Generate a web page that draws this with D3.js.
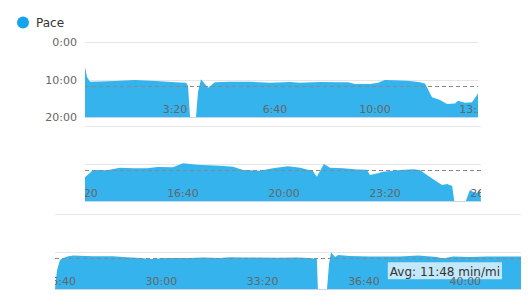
<!DOCTYPE html>
<html>
<head>
<meta charset="utf-8">
<script src="https://cdn.jsdelivr.net/npm/d3@7"></script>
<style>
  body { margin: 0; background: #fff; }
  svg { display: block; font-family: "DejaVu Sans", Verdana, sans-serif; }
</style>
</head>
<body>
<svg id="chart" width="531" height="305"></svg>
<script>
// data: elapsed time (s) and pace (s per mile)
const seriesName = "Pace";
const times = [
  20, 24, 30, 50, 80, 120, 170, 200, 222, 226, 230, 242, 246, 252, 266, 280, 310, 350, 390, 430,
  450, 490, 530, 546, 560, 590, 606, 620, 650, 670, 690, 700, 714, 730, 744, 760, 766, 780, 794, 804,
  806, 822, 850, 875, 901, 929, 949, 980, 1000, 1028, 1073, 1099, 1119, 1152, 1178, 1208, 1232, 1257, 1265, 1279,
  1291, 1317, 1345, 1364, 1370, 1384, 1396, 1430, 1456, 1469, 1483, 1503, 1513, 1523, 1533, 1537, 1560, 1562, 1568, 1574,
  1582, 1588, 1590, 1594, 1600, 1614, 1626, 1665, 1704, 1732, 1758, 1778, 1811, 1857, 1882, 1916, 1935, 1961, 2028, 2068,
  2093, 2107, 2109, 2127, 2131, 2135, 2143, 2149, 2172, 2212, 2232, 2271, 2307, 2344, 2356, 2376, 2409, 2443, 2468, 2510
];
const paces = [
  395, 560, 635, 630, 625, 608, 628, 645, 650, 700, 1200, 1200, 800, 597, 731, 645, 635, 635, 650, 640,
  652, 640, 645, 645, 670, 670, 650, 608, 615, 625, 645, 665, 885, 928, 992, 985, 939, 971, 965, 848,
  821, 704, 709, 667, 677, 675, 656, 660, 597, 619, 635, 651, 704, 715, 677, 645, 667, 720, 811, 608,
  667, 677, 695, 700, 784, 760, 731, 704, 693, 704, 784, 891, 944, 928, 960, 1200, 1200, 1157, 1024, 1050,
  1070, 1024, 1200, 900, 731, 678, 662, 675, 675, 690, 704, 720, 704, 704, 694, 704, 690, 694, 700, 694,
  704, 720, 1200, 1200, 800, 614, 688, 656, 672, 678, 678, 678, 662, 688, 710, 678, 688, 678, 678, 678
];
const avgPace = 708;
const avgLabel = "Avg: 11:48 min/mi";
const yTicks = [0, 600, 1200];
const xTickStep = 200;
const rowSpans = [[20, 806], [806, 1590], [1590, 2510]];

const points = times.map((t, i) => ({ t: t, p: paces[i] }));

// layout of the three stacked rows
const rows = [
  { x0: 85, x1: 478, top: 42, bottom: 117, yLabels: true },
  { x0: 85, x1: 481, top: 126, bottom: 201, yLabels: false },
  { x0: 55, x1: 521, top: 214, bottom: 289, yLabels: false }
];

const fmt = s => Math.floor(s / 60) + ":" + String(s % 60).padStart(2, "0");

const svg = d3.select("#chart");

// legend
svg.append("circle").attr("cx", 23).attr("cy", 22.5).attr("r", 6).attr("fill", "#14a5ea");
svg.append("text").attr("x", 36).attr("y", 26.5).attr("font-size", 12).attr("fill", "#333").text(seriesName);

rows.forEach((row, i) => {
  const span = rowSpans[i];
  const x = d3.scaleLinear().domain(span).range([row.x0, row.x1]);
  const y = d3.scaleLinear().domain([0, 1200]).range([row.top, row.bottom]);

  const clipId = "clip" + i;
  svg.append("clipPath").attr("id", clipId)
    .append("rect")
    .attr("x", row.x0).attr("y", row.top)
    .attr("width", row.x1 - row.x0).attr("height", row.bottom - row.top);
  const labClip = "labclip" + i;
  svg.append("clipPath").attr("id", labClip)
    .append("rect")
    .attr("x", row.x0).attr("y", row.top - 10)
    .attr("width", row.x1 - row.x0).attr("height", row.bottom - row.top + 20);

  const g = svg.append("g");

  // grid lines
  g.selectAll(".grid")
    .data(yTicks.slice(0, -1))
    .join("line")
    .attr("x1", row.x0).attr("x2", row.x1)
    .attr("y1", d => Math.round(y(d)) + 0.5).attr("y2", d => Math.round(y(d)) + 0.5)
    .attr("stroke", "#e6e6e6");

  // area
  const area = d3.area()
    .x(d => x(d.t))
    .y0(y(1200))
    .y1(d => y(Math.min(d.p, 1200)));
  g.append("path")
    .datum(points.filter(d => d.t >= span[0] - 20 && d.t <= span[1] + 20))
    .attr("clip-path", `url(#${clipId})`)
    .attr("fill", "#35b3ed")
    .attr("d", area);

  // bottom axis line
  g.append("line")
    .attr("x1", row.x0).attr("x2", row.x1)
    .attr("y1", row.bottom + 0.5).attr("y2", row.bottom + 0.5)
    .attr("stroke", "#ccd6eb");

  // average line
  g.append("line")
    .attr("x1", row.x0).attr("x2", row.x1)
    .attr("y1", Math.round(y(avgPace)) + 0.5).attr("y2", Math.round(y(avgPace)) + 0.5)
    .attr("stroke", "#888").attr("stroke-dasharray", "4,3");

  // y labels on first row only
  if (row.yLabels) {
    g.selectAll(".ylab")
      .data(yTicks)
      .join("text")
      .attr("x", 77).attr("y", d => y(d) + 4)
      .attr("text-anchor", "end")
      .attr("font-size", 11)
      .attr("fill", "#666")
      .text(fmt);
  }

  // avg label on last row
  if (i === rows.length - 1) {
    const lab = g.append("g");
    const txt = lab.append("text")
      .attr("x", 500).attr("y", y(avgPace) + 17.5)
      .attr("text-anchor", "end")
      .attr("font-size", 12)
      .attr("fill", "#333")
      .text(avgLabel);
    const bb = txt.node().getBBox();
    lab.insert("rect", "text")
      .attr("x", bb.x - 2).attr("y", y(avgPace) + 4)
      .attr("width", bb.width + 4).attr("height", 17)
      .attr("fill", "rgba(255,255,255,0.7)");
  }

  // time tick labels, clipped to the row
  const ticks = d3.range(Math.floor(span[0] / xTickStep) * xTickStep, span[1] + xTickStep, xTickStep)
    .filter(t => x(t) >= row.x0 - 5 && x(t) <= row.x1 + 15);
  g.append("g").attr("clip-path", `url(#${labClip})`)
    .selectAll("text")
    .data(ticks)
    .join("text")
    .attr("x", d => x(d)).attr("y", row.bottom - 4)
    .attr("text-anchor", "middle")
    .attr("font-size", 11)
    .attr("fill", "#666")
    .text(fmt);
});
</script>
</body>
</html>
